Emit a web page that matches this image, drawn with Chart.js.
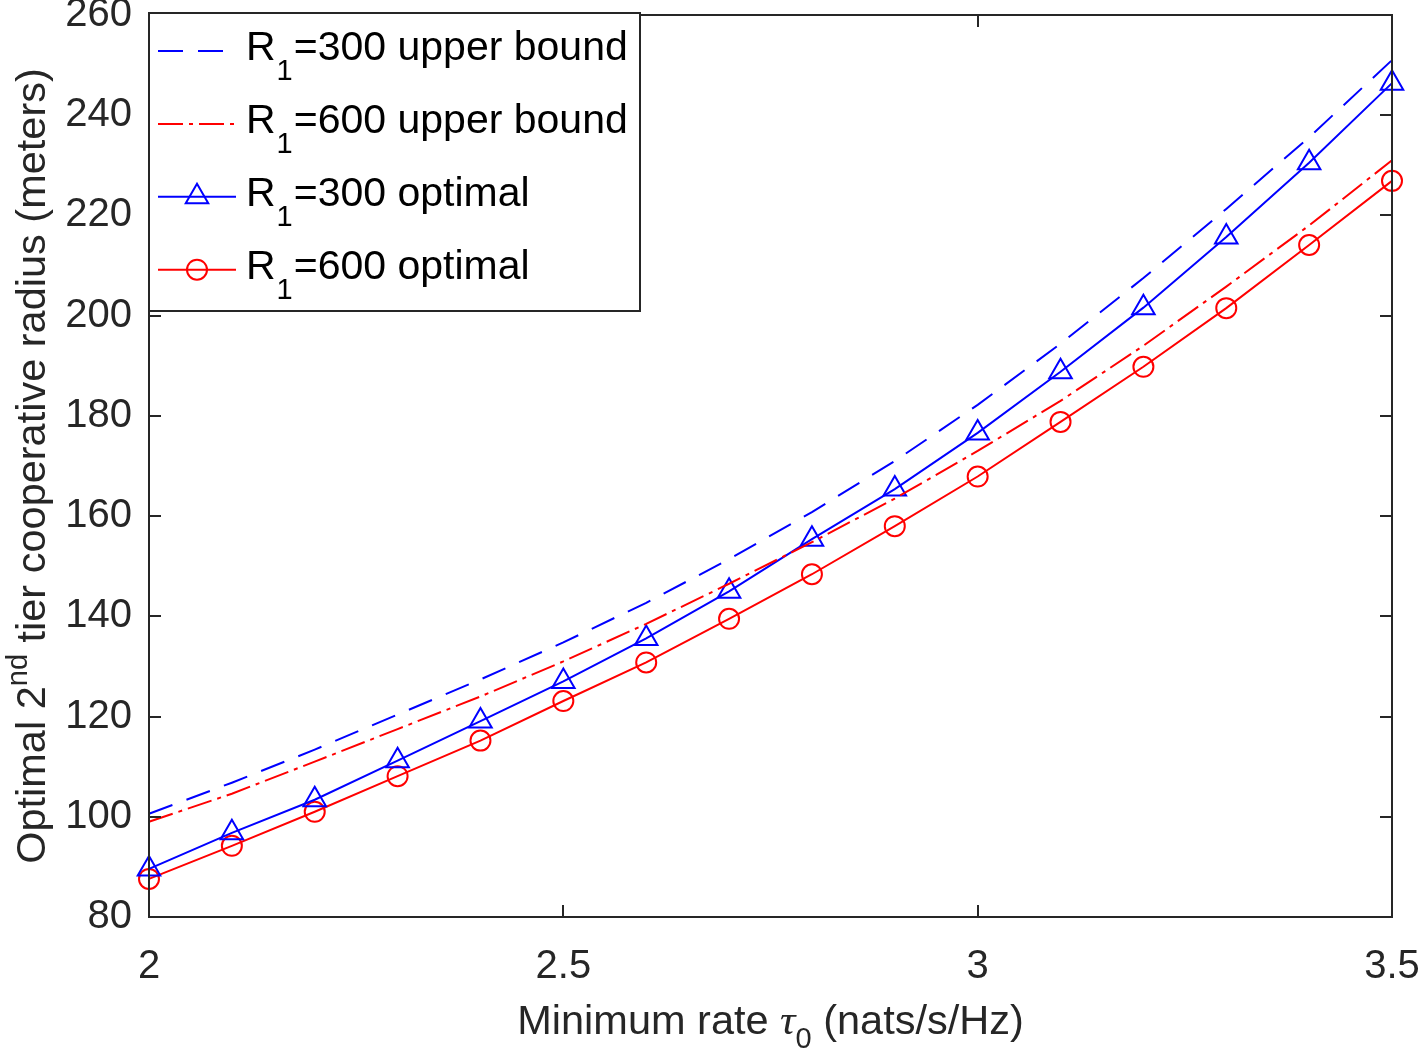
<!DOCTYPE html>
<html><head><meta charset="utf-8">
<script src="https://cdn.jsdelivr.net/npm/chart.js@4/dist/chart.umd.min.js"></script>
<style>html,body{margin:0;padding:0;background:#fff}#wrap{width:1418px;height:1054px}</style>
</head><body><div id="wrap"><canvas id="c" width="1418" height="1054"></canvas></div>
<script>
const rates = [2.0, 2.1, 2.2, 2.3, 2.4, 2.5, 2.6, 2.7, 2.8, 2.9, 3.0, 3.1, 3.2, 3.3, 3.4, 3.5];
const upperBound300 = [100.6, 106.8, 113.4, 120.4, 127.4, 134.8, 142.7, 151.4, 160.8, 171.0, 182.2, 194.4, 207.5, 221.3, 235.6, 251.0];
const upperBound600 = [99.0, 104.6, 111.0, 117.5, 124.0, 131.0, 138.5, 146.5, 154.8, 163.5, 173.0, 183.0, 194.0, 205.8, 218.0, 231.0];
const optimal300 = [89.6, 96.8, 103.4, 111.2, 119.1, 127.0, 135.6, 145.0, 155.4, 165.4, 176.6, 188.8, 201.6, 215.7, 230.5, 246.4];
const optimal600 = [87.6, 94.2, 101.0, 108.1, 115.2, 123.1, 130.8, 139.5, 148.4, 158.0, 167.9, 178.8, 189.8, 201.5, 214.1, 226.9];
const xTickValues = [2, 2.5, 3, 3.5];
const yTickValues = [80, 100, 120, 140, 160, 180, 200, 220, 240, 260];
const legendPrefix = 'R';
const legendSub = '1';
const legendRest = ['=300 upper bound', '=600 upper bound', '=300 optimal', '=600 optimal'];
const xTitleParts = ['Minimum rate ', '\u03C4', '0', ' (nats/s/Hz)'];
const yTitleParts = ['Optimal 2', 'nd', ' tier cooperative radius (meters)'];

const SANS = '"Liberation Sans", Arial, Helvetica, sans-serif';
const AXC = '#262626';
const TF = '41.5px ' + SANS;
const LF = '41px ' + SANS;
const SF = '29px ' + SANS;
const toXY = arr => rates.map((r, i) => ({x: r, y: arr[i]}));

const styles = [
  {color: '#0000ff', dash: [25, 15], point: false, pointStyle: 'circle', radius: 0},
  {color: '#ff0000', dash: [25, 6, 4, 6], point: false, pointStyle: 'circle', radius: 0},
  {color: '#0000ff', dash: [], point: true, pointStyle: 'triangle', radius: 13},
  {color: '#ff0000', dash: [], point: true, pointStyle: 'circle', radius: 10}
];
const seriesData = [upperBound300, upperBound600, optimal300, optimal600];

const datasets = seriesData.map((d, i) => ({
  label: legendPrefix + legendSub + legendRest[i],
  data: toXY(d),
  borderColor: styles[i].color,
  backgroundColor: 'rgba(0,0,0,0)',
  borderWidth: 2,
  borderDash: styles[i].dash,
  pointStyle: styles[i].pointStyle,
  pointRadius: styles[i].radius,
  pointBorderWidth: 2,
  pointBorderColor: styles[i].color,
  pointBackgroundColor: 'rgba(0,0,0,0)',
  tension: 0,
  clip: false,
  fill: false
}));

function drawParts(ctx, parts, x, y) {
  let total = 0;
  parts.forEach(p => { ctx.font = p.font; p.w = ctx.measureText(p.text).width; total += p.w; });
  let cx = x - total / 2;
  parts.forEach(p => { ctx.font = p.font; ctx.fillText(p.text, cx, y + (p.dy || 0)); cx += p.w; });
}

const decor = {
  id: 'decor',
  afterDatasetsDraw(chart) {
    const {ctx, chartArea: a, scales} = chart;
    const xs = scales.x, ys = scales.y;
    ctx.save();
    ctx.strokeStyle = AXC;
    ctx.lineWidth = 2;
    ctx.setLineDash([]);
    ctx.beginPath();
    yTickValues.forEach(v => {
      const py = Math.round(ys.getPixelForValue(v));
      ctx.moveTo(a.left, py); ctx.lineTo(a.left + 12, py);
      ctx.moveTo(a.right, py); ctx.lineTo(a.right - 12, py);
    });
    xTickValues.forEach(v => {
      const px = Math.round(xs.getPixelForValue(v));
      ctx.moveTo(px, a.bottom); ctx.lineTo(px, a.bottom - 12);
      ctx.moveTo(px, a.top); ctx.lineTo(px, a.top + 12);
    });
    ctx.stroke();
    ctx.strokeRect(a.left, a.top, a.right - a.left, a.bottom - a.top);
    ctx.restore();
  },
  afterDraw(chart) {
    const {ctx, chartArea: a} = chart;
    ctx.save();
    const lx = a.left, ly = a.top - 2, lw = 491, lh = 298;
    ctx.fillStyle = '#ffffff';
    ctx.fillRect(lx, ly, lw, lh);
    ctx.strokeStyle = AXC;
    ctx.lineWidth = 2;
    ctx.strokeRect(lx, ly, lw, lh);
    datasets.forEach((ds, i) => {
      const st = styles[i];
      const sy = ly + 38 + i * 72.9;
      ctx.strokeStyle = st.color;
      ctx.lineWidth = 2;
      ctx.setLineDash(st.dash);
      ctx.beginPath();
      ctx.moveTo(lx + 9, sy); ctx.lineTo(lx + 87, sy);
      ctx.stroke();
      ctx.setLineDash([]);
      if (st.point) {
        ctx.fillStyle = 'rgba(0,0,0,0)';
        ctx.strokeStyle = st.color;
        Chart.helpers.drawPoint(ctx, {pointStyle: st.pointStyle, radius: st.radius, rotation: 0, borderWidth: 2}, lx + 48, sy);
      }
      ctx.fillStyle = '#000000';
      ctx.textBaseline = 'alphabetic';
      ctx.textAlign = 'left';
      let tx = lx + 97;
      const by = sy + 9;
      ctx.font = LF;
      ctx.fillText(legendPrefix, tx, by);
      tx += ctx.measureText(legendPrefix).width + 1;
      ctx.font = SF;
      ctx.fillText(legendSub, tx, by + 20);
      tx += ctx.measureText(legendSub).width + 1;
      ctx.font = LF;
      ctx.fillText(legendRest[i], tx, by);
    });
    ctx.fillStyle = AXC;
    ctx.textAlign = 'left';
    ctx.textBaseline = 'alphabetic';
    drawParts(ctx, [
      {text: xTitleParts[0], font: TF},
      {text: xTitleParts[1], font: 'italic 43px "Liberation Serif", serif'},
      {text: xTitleParts[2], font: SF, dy: 14},
      {text: xTitleParts[3], font: TF}
    ], (a.left + a.right) / 2, 1034);
    ctx.translate(45, (a.top + a.bottom) / 2);
    ctx.rotate(-Math.PI / 2);
    drawParts(ctx, [
      {text: yTitleParts[0], font: TF},
      {text: yTitleParts[1], font: SF, dy: -18},
      {text: yTitleParts[2], font: TF}
    ], 0, 0);
    ctx.restore();
  }
};

new Chart(document.getElementById('c'), {
  type: 'line',
  data: {datasets},
  options: {
    responsive: false,
    devicePixelRatio: 1,
    animation: false,
    layout: {padding: {top: 13, right: 26, left: 0, bottom: 0}},
    plugins: {legend: {display: false}, tooltip: {enabled: false}},
    scales: {
      x: {
        type: 'linear', min: 2, max: 3.5,
        afterBuildTicks: s => { s.ticks = xTickValues.map(v => ({value: v})); },
        afterFit: s => { s.height = 137; s.paddingLeft = 0; s.paddingRight = 0; },
        grid: {display: false, drawTicks: false},
        border: {display: false},
        ticks: {font: {size: 40, family: SANS}, color: AXC, padding: 26, maxRotation: 0, autoSkip: false,
                callback: v => String(v)}
      },
      y: {
        type: 'linear', min: 80, max: 260,
        afterBuildTicks: s => { s.ticks = yTickValues.map(v => ({value: v})); },
        afterFit: s => { s.width = 149; s.paddingTop = 0; s.paddingBottom = 0; },
        grid: {display: false, drawTicks: false},
        border: {display: false},
        ticks: {font: {size: 40, family: SANS}, color: AXC, padding: 17, autoSkip: false,
                callback: v => String(v)}
      }
    }
  },
  plugins: [decor]
});
</script></body></html>
